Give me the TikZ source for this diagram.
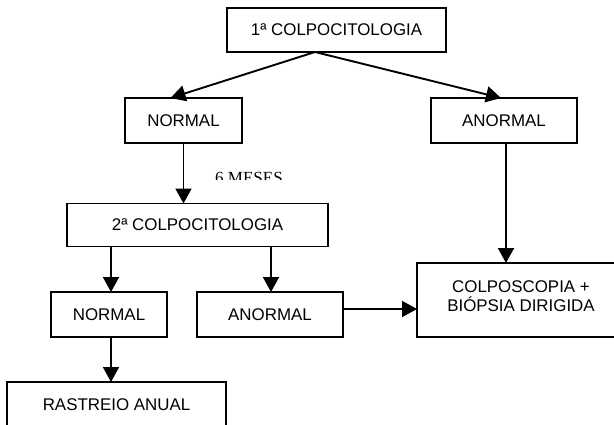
\documentclass[tikz,border=0pt]{standalone}
\usepackage{fontspec}
\setmainfont{Liberation Sans}
\newfontfamily\serifface{Liberation Serif}
\usetikzlibrary{arrows.meta,calc}

\tikzset{
  box/.style={draw, line width=1.8pt, inner sep=0pt, outer sep=0pt,
              font=\fontsize{16.9}{19}\selectfont, align=center},
  arr/.style={line width=1.9pt, -{Triangle[length=15pt,width=16pt]}},
}

\begin{document}
\begin{tikzpicture}[x=1pt, y=-1pt]
  % page frame (the lowest and rightmost boxes run past it)
  \clip (0,0) rectangle (614,424);
  \fill[white] (0,0) rectangle (614,424);

  % boxes
  \node[box, minimum width=219pt, minimum height=44pt] (c1) at (336.5,30) {1ª COLPOCITOLOGIA};
  \node[box, minimum width=117pt, minimum height=45pt] (n1) at (183.5,120.5) {NORMAL};
  \node[box, minimum width=146pt, minimum height=45pt] (a1) at (504,120.5) {ANORMAL};
  \node[box, minimum width=261pt, minimum height=43pt] (c2) at (197.5,225) {2ª COLPOCITOLOGIA};
  \node[box, minimum width=116pt, minimum height=45pt] (n2) at (109,314.5) {NORMAL};
  \node[box, minimum width=146pt, minimum height=45pt] (a2) at (270,314.5) {ANORMAL};
  \node[box, minimum width=208pt, minimum height=74pt] (cb) at (521,300) {};
  \node[font=\fontsize{16.9}{19}\selectfont, align=center, inner sep=0pt] (cbt) at (521,296)
        {COLPOSCOPIA +\\BIÓPSIA DIRIGIDA};
  \node[box, minimum width=219pt, minimum height=46pt] (r) at (116.5,405) {RASTREIO ANUAL};

  % interval label, cut off along its lower edge
  \begin{scope}
    \clip (200,160) rectangle (300,179.5);
    \node[font=\serifface\fontsize{17}{19}\selectfont, anchor=base west, inner sep=0pt]
          (meses) at (215,183.5) {6 MESES};
  \end{scope}

  % connectors
  \coordinate (split) at ($(c1.south)+(-21.5,0)$);
  \draw[arr] (split) -- ($(n1.north)+(-13,0)$);
  \draw[arr] (split) -- ($(a1.north)+(-3,0)$);
  \draw[arr] (n1.south) -- (n1.south |- c2.north);
  \draw[arr] ($(a1.south)+(2,0)$) -- ($(a1.south |- cb.north)+(2,0)$);
  \draw[arr] ($(n2.north |- c2.south)+(2,0)$) -- ($(n2.north)+(2,0)$);
  \draw[arr] ($(a2.north |- c2.south)+(1,0)$) -- ($(a2.north)+(1,0)$);
  \draw[arr] ($(a2.east)+(0,-5.5)$) -- ($(a2.east -| cb.west)+(0,-5.5)$);
  \draw[arr] ($(n2.south)+(2,0)$) -- ($(n2.south |- r.north)+(2,0)$);
\end{tikzpicture}
\end{document}
